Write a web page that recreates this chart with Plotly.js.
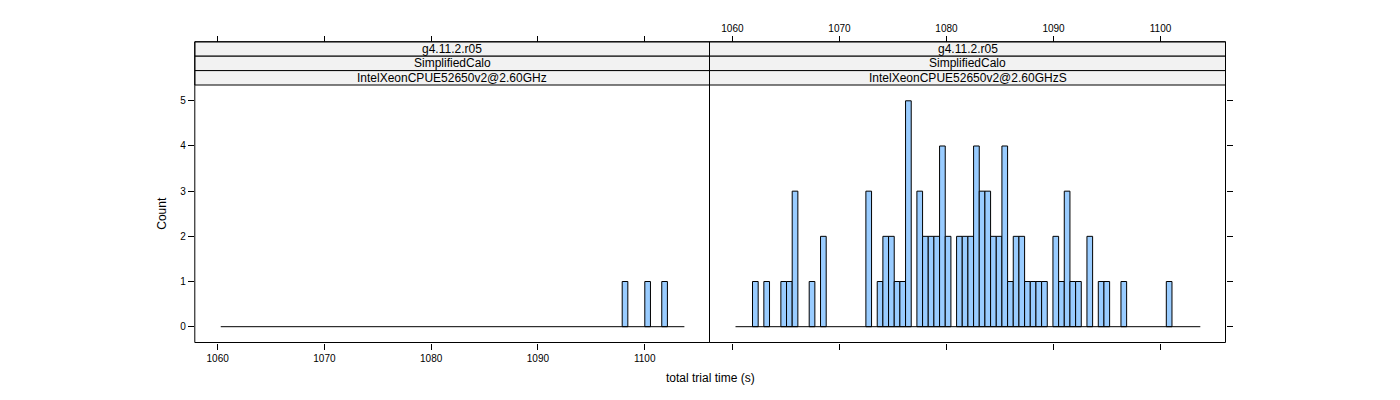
<!DOCTYPE html>
<html>
<head>
<meta charset="utf-8">
<script src="https://cdn.plot.ly/plotly-3.0.1.min.js"></script>
<style>html,body{margin:0;padding:0;background:#fff;}#chart{width:1400px;height:400px;}</style>
</head>
<body>
<div id="chart"></div>
<script>
// ---- data ----
const breaksStart = 1060.29;   // first histogram break (s)
const breakWidth = 0.5296;     // histogram bin width (s)
const stripVersion = ["g4.11.2.r05", "g4.11.2.r05"];
const stripTest = ["SimplifiedCalo", "SimplifiedCalo"];
const stripCpu = ["IntelXeonCPUE52650v2@2.60GHz", "IntelXeonCPUE52650v2@2.60GHzS"];
const countsLeft = [
  0,0,0,0,0,0,0,0,0,0, 0,0,0,0,0,0,0,0,0,0,
  0,0,0,0,0,0,0,0,0,0, 0,0,0,0,0,0,0,0,0,0,
  0,0,0,0,0,0,0,0,0,0, 0,0,0,0,0,0,0,0,0,0,
  0,0,0,0,0,0,0,0,0,0, 0,1,0,0,0,1,0,0,1,0,
  0,0];
const countsRight = [
  0,0,0,1,0,1,0,0,1,1, 3,0,0,1,0,2,0,0,0,0,
  0,0,0,3,0,1,2,2,1,1, 5,0,3,2,2,2,4,2,0,2,
  2,2,4,3,3,2,2,4,1,2, 2,1,1,1,1,0,2,1,3,1,
  1,0,2,0,1,1,0,0,1,0, 0,0,0,0,0,0,1,0,0,0,
  0,0];
const xTicks = [1060, 1070, 1080, 1090, 1100];
const yTicks = [0, 1, 2, 3, 4, 5];
const xTitle = "total trial time (s)";
const yTitle = "Count";

// ---- layout geometry (pixels) ----
const W = 1400, H = 400;
const pxL = 194.8, pxM = 709.5, pxR = 1225.5;
const pyStripTop = 41.8, pyPlotTop = 85, pyBottom = 342.5;
const stripH = (pyPlotTop - pyStripTop) / 3;
const fx = p => p / W;
const fy = p => 1 - p / H;
const xRange = [1057.86, 1106.07];
const yRange = [-0.35, 5.35];
const font = "Liberation Sans, Arial, Helvetica, sans-serif";

function barTrace(counts, xa, ya) {
  const xs = [], ys = [];
  counts.forEach((c, i) => {
    if (c > 0) { xs.push(breaksStart + (i + 0.5) * breakWidth); ys.push(c); }
  });
  return {
    type: "bar", x: xs, y: ys, width: breakWidth, xaxis: xa, yaxis: ya,
    marker: {color: "#99CCFF", line: {color: "#000000", width: 1}},
    hoverinfo: "skip"
  };
}
function baseTrace(counts, xa, ya) {
  return {
    type: "scatter", mode: "lines",
    x: [breaksStart, breaksStart + counts.length * breakWidth], y: [0, 0],
    xaxis: xa, yaxis: ya, line: {color: "#000000", width: 1}, hoverinfo: "skip"
  };
}
const dummy = (xa, ya) => ({type: "scatter", mode: "markers", x: [xRange[0]], y: [0], xaxis: xa, yaxis: ya, marker: {opacity: 0}, hoverinfo: "skip"});

const data = [
  baseTrace(countsLeft, "x", "y"), barTrace(countsLeft, "x", "y"),
  baseTrace(countsRight, "x2", "y2"), barTrace(countsRight, "x2", "y2"),
  dummy("x3", "y"), dummy("x4", "y2")
];

const tickFont = {family: font, size: 10, color: "#000"};
const baseX = {
  range: xRange, tickvals: xTicks, ticks: "outside", ticklen: 6, tickwidth: 1, tickcolor: "#000",
  showgrid: false, zeroline: false, showline: false, tickfont: tickFont, fixedrange: true
};
const baseY = {
  range: yRange, tickvals: yTicks, ticks: "outside", ticklen: 6, tickwidth: 1, tickcolor: "#000",
  showgrid: false, zeroline: false, showline: false, tickfont: tickFont, fixedrange: true,
  domain: [fy(pyBottom), fy(pyPlotTop)]
};

const shapes = [];
const annotations = [];
const panels = [[pxL, pxM], [pxM, pxR]];
const stripRows = [stripVersion, stripTest, stripCpu];
panels.forEach((p, k) => {
  for (let r = 0; r < 3; r++) {
    const top = pyStripTop + r * stripH, bot = top + stripH;
    shapes.push({type: "rect", xref: "paper", yref: "paper", x0: fx(p[0]), x1: fx(p[1]), y0: fy(bot), y1: fy(top),
      fillcolor: "#F2F2F2", line: {color: "#000", width: 1}, layer: "below"});
    annotations.push({xref: "paper", yref: "paper", x: fx((p[0] + p[1]) / 2), y: fy((top + bot) / 2),
      text: stripRows[r][k], showarrow: false, xanchor: "center", yanchor: "middle",
      font: {family: font, size: 12, color: "#000"}});
  }
  shapes.push({type: "rect", xref: "paper", yref: "paper", x0: fx(p[0]), x1: fx(p[1]), y0: fy(pyBottom), y1: fy(pyStripTop),
    fillcolor: "rgba(0,0,0,0)", line: {color: "#000", width: 1}, layer: "above"});
});
annotations.push({xref: "paper", yref: "paper", x: fx((pxL + pxR) / 2), y: fy(378), text: xTitle, showarrow: false,
  xanchor: "center", yanchor: "middle", font: {family: font, size: 12, color: "#000"}});
annotations.push({xref: "paper", yref: "paper", x: fx(162), y: fy((pyPlotTop + pyBottom) / 2), text: yTitle, showarrow: false,
  textangle: -90, xanchor: "center", yanchor: "middle", font: {family: font, size: 12, color: "#000"}});

const layout = {
  width: W, height: H, margin: {l: 0, r: 0, t: 0, b: 0}, paper_bgcolor: "#fff", plot_bgcolor: "rgba(0,0,0,0)",
  showlegend: false, barmode: "overlay", bargap: 0,
  xaxis: Object.assign({}, baseX, {domain: [fx(pxL), fx(pxM)], anchor: "y", side: "bottom"}),
  xaxis2: Object.assign({}, baseX, {domain: [fx(pxM), fx(pxR)], anchor: "y2", side: "bottom", showticklabels: false}),
  xaxis3: Object.assign({}, baseX, {overlaying: "x", anchor: "free", position: fy(pyStripTop), side: "top", showticklabels: false}),
  xaxis4: Object.assign({}, baseX, {overlaying: "x2", anchor: "free", position: fy(pyStripTop), side: "top", showticklabels: true}),
  yaxis: Object.assign({}, baseY, {anchor: "x", side: "left"}),
  yaxis2: Object.assign({}, baseY, {anchor: "x2", side: "right", showticklabels: false}),
  shapes: shapes, annotations: annotations
};

Plotly.newPlot("chart", data, layout, {staticPlot: true, displayModeBar: false});
</script>
</body>
</html>
